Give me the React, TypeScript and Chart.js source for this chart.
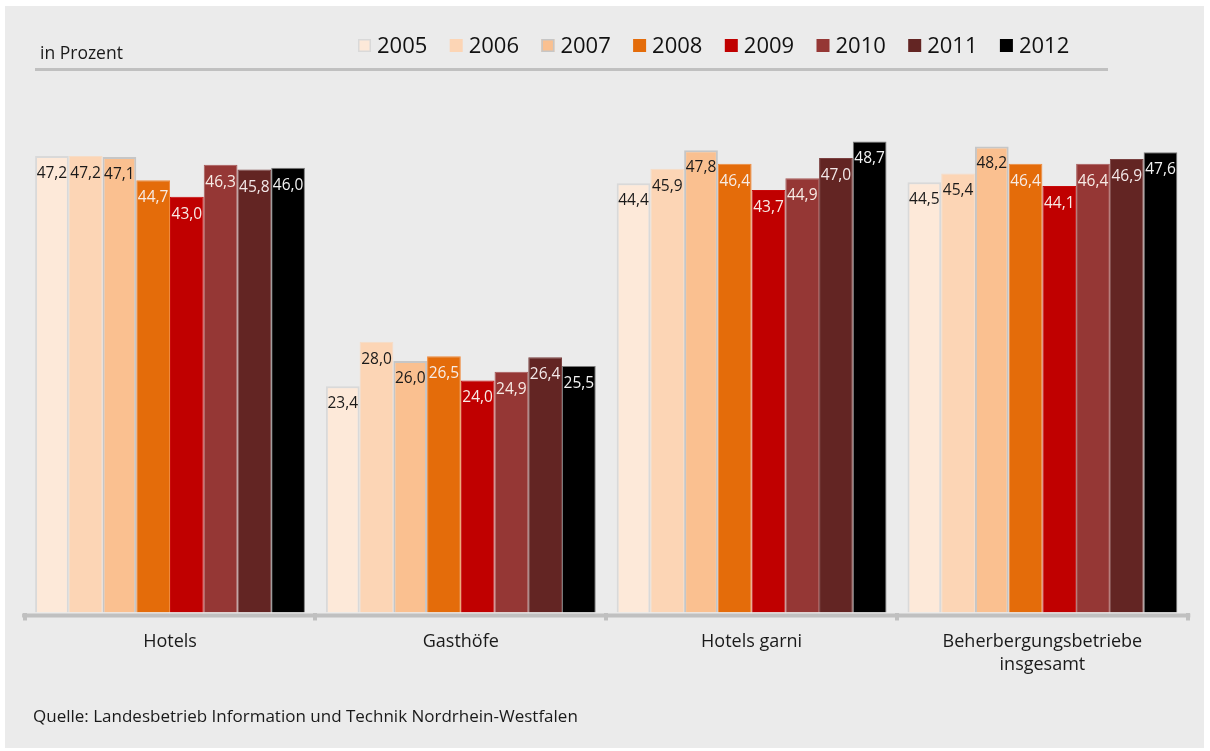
import React, { useEffect, useRef } from 'react';
import { Chart, registerables } from 'chart.js';

Chart.register(...registerables);

const FONT = '"Open Sans", "Noto Sans", sans-serif';

const categories = [['Hotels'], ['Gasthöfe'], ['Hotels garni'], ['Beherbergungsbetriebe', 'insgesamt']];
const years = ['2005', '2006', '2007', '2008', '2009', '2010', '2011', '2012'];

const v2005 = [47.2, 23.4, 44.4, 44.5];
const v2006 = [47.2, 28.0, 45.9, 45.4];
const v2007 = [47.1, 26.0, 47.8, 48.2];
const v2008 = [44.7, 26.5, 46.4, 46.4];
const v2009 = [43.0, 24.0, 43.7, 44.1];
const v2010 = [46.3, 24.9, 44.9, 46.4];
const v2011 = [45.8, 26.4, 47.0, 46.9];
const v2012 = [46.0, 25.5, 48.7, 47.6];
const seriesValues = [v2005, v2006, v2007, v2008, v2009, v2010, v2011, v2012];

const fills = ['#fde9d9', '#fcd5b5', '#fac090', '#e46c0a', '#c00000', '#953735', '#632523', '#000000'];
const borders = ['#d9d9d9', '#f6dcc6', '#c6c6c6', '#f08a3c', '#c80a0a', '#a85a58', '#7a4040', '#7a7a7a'];
const borderWidths = [2, 1, 2, 1, 1, 1, 1, 1];
const labelColors = ['#1a1a1a', '#1a1a1a', '#1a1a1a', '#f7ece6', '#f7ece6', '#f7ece6', '#f2e8e8', '#f2f2f2'];

const unitLabel = 'in Prozent';
const sourceText = 'Quelle: Landesbetrieb Information und Technik Nordrhein-Westfalen';

const backgroundPlugin = {
  id: 'bgPanel',
  beforeDraw(chart: any) {
    const { ctx, width, height } = chart;
    ctx.save();
    ctx.fillStyle = '#ffffff';
    ctx.fillRect(0, 0, width, height);
    ctx.fillStyle = '#ebebeb';
    ctx.fillRect(5, 6, width - 11, height - 9);
    ctx.restore();
  },
};

const decorPlugin = {
  id: 'decor',
  afterDraw(chart: any) {
    const { ctx, chartArea } = chart;
    ctx.save();
    // axis line
    ctx.strokeStyle = '#c0c0c0';
    ctx.lineWidth = 4;
    ctx.beginPath();
    ctx.moveTo(chartArea.left - 2.5, chartArea.bottom + 3);
    ctx.lineTo(chartArea.right + 2.5, chartArea.bottom + 3);
    ctx.stroke();
    // header line
    ctx.lineWidth = 3;
    ctx.beginPath();
    ctx.moveTo(35, 69.5);
    ctx.lineTo(1108, 69.5);
    ctx.stroke();
    // unit label
    ctx.fillStyle = '#1a1a1a';
    ctx.font = `17.5px ${FONT}`;
    ctx.textBaseline = 'alphabetic';
    ctx.textAlign = 'left';
    ctx.fillText(unitLabel, 40, 58.5);
    // source
    ctx.font = `17px ${FONT}`;
    ctx.fillText(sourceText, 33, 721.5);
    // legend
    ctx.font = `22px ${FONT}`;
    ctx.textBaseline = 'middle';
    chart.data.datasets.forEach((ds: any, i: number) => {
      const x = 358 + i * 91.7;
      ctx.fillStyle = ds.backgroundColor;
      ctx.fillRect(x, 39, 13, 13);
      if (ds.borderWidth > 1) {
        ctx.strokeStyle = ds.borderColor;
        ctx.lineWidth = 1.5;
        ctx.strokeRect(x + 0.75, 39.75, 11.5, 11.5);
      }
      ctx.fillStyle = '#111111';
      ctx.fillText(ds.label, x + 19, 46.5);
    });
    ctx.restore();
  },
};

const valueLabelPlugin = {
  id: 'valueLabels',
  afterDatasetsDraw(chart: any) {
    const { ctx } = chart;
    ctx.save();
    ctx.font = `15.5px ${FONT}`;
    ctx.textAlign = 'center';
    ctx.textBaseline = 'middle';
    chart.data.datasets.forEach((ds: any, i: number) => {
      const meta = chart.getDatasetMeta(i);
      meta.data.forEach((el: any, j: number) => {
        const v = ds.data[j];
        ctx.fillStyle = labelColors[i];
        ctx.fillText(v.toFixed(1).replace('.', ','), el.x, el.y + 17.5);
      });
    });
    ctx.restore();
  },
};

export default function App() {
  const ref = useRef<HTMLCanvasElement | null>(null);

  useEffect(() => {
    document.body.style.margin = '0';
    const canvas = ref.current;
    if (!canvas) return;
    const chart = new Chart(canvas, {
      type: 'bar',
      data: {
        labels: categories,
        datasets: years.map((y, i) => ({
          label: y,
          data: seriesValues[i],
          backgroundColor: fills[i],
          borderColor: borders[i],
          borderWidth: borderWidths[i],
          categoryPercentage: 0.928,
          barPercentage: 1,
        })),
      },
      options: {
        responsive: false,
        animation: false,
        events: [],
        layout: { padding: { left: 24.6, right: 22.2, top: 129, bottom: 0 } },
        plugins: {
          legend: { display: false },
          tooltip: { enabled: false },
          title: { display: false },
        },
        scales: {
          x: {
            grid: {
              offset: true,
              drawOnChartArea: false,
              drawTicks: true,
              tickLength: 8,
              lineWidth: 4,
              color: '#c0c0c0',
            },
            border: { display: false },
            ticks: {
              font: { family: FONT, size: 18, lineHeight: 1.3 },
              color: '#1a1a1a',
              padding: 9.5,
              maxRotation: 0,
              autoSkip: false,
            },
            afterFit: (scale: any) => {
              scale.height = 751 - 612.5;
            },
          },
          y: { display: false, min: 0, max: 50 },
        },
      },
      plugins: [backgroundPlugin, valueLabelPlugin, decorPlugin],
    } as any);
    return () => chart.destroy();
  }, []);

  return (
    <div style={{ position: 'absolute', left: 0, top: 0, width: 1210, height: 751 }}>
      <canvas ref={ref} width={1210} height={751} style={{ display: 'block' }} />
    </div>
  );
}
